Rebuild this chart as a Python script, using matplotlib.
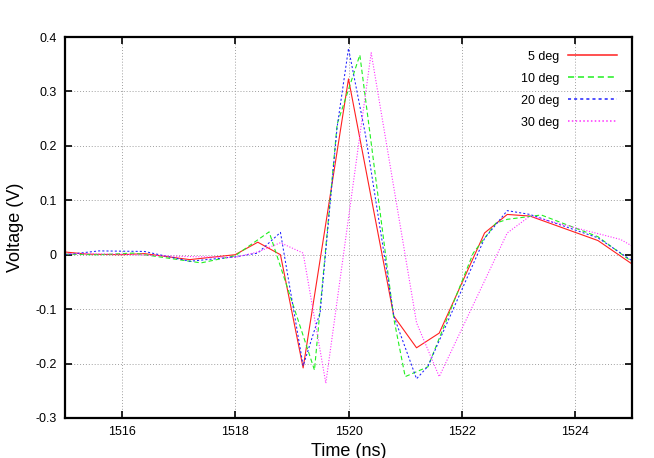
import matplotlib
matplotlib.use("Agg")
import matplotlib.pyplot as plt
from matplotlib.ticker import FuncFormatter

plt.rcParams['font.family'] = ['Liberation Sans', 'DejaVu Sans']
plt.rcParams['axes.unicode_minus'] = False

# ---- data ----
labels = ["5 deg", "10 deg", "20 deg", "30 deg"]

t_5 = [1515.0, 1515.4, 1516.0, 1516.4, 1517.2, 1518.0, 1518.4, 1518.8, 1519.2,
       1520.0, 1520.8, 1521.2, 1521.6, 1522.4, 1522.8, 1523.2, 1524.4, 1525.0]
v_5 = [0.005, 0.001, 0.0, 0.002, -0.009, 0.0, 0.023, 0.0, -0.208,
       0.323, -0.113, -0.171, -0.144, 0.040, 0.074, 0.071, 0.026, -0.017]

t_10 = [1515.0, 1515.6, 1516.2, 1517.4, 1518.0, 1518.6, 1519.4, 1519.8, 1520.2,
        1520.8, 1521.0, 1521.4, 1522.2, 1522.6, 1522.8, 1523.4, 1524.4, 1525.0]
v_10 = [0.001, 0.0, 0.003, -0.015, -0.002, 0.042, -0.212, 0.240, 0.367,
        -0.118, -0.224, -0.206, 0.003, 0.058, 0.065, 0.073, 0.033, -0.013]

t_20 = [1515.0, 1515.6, 1516.4, 1517.2, 1518.0, 1518.4, 1518.8, 1519.2, 1519.5,
        1519.8, 1520.0, 1520.3, 1520.8, 1521.2, 1521.4, 1522.4, 1522.8, 1523.2,
        1524.4, 1525.0]
v_20 = [0.0, 0.007, 0.006, -0.012, -0.004, 0.003, 0.041, -0.204, -0.106,
        0.235, 0.379, 0.22, -0.113, -0.228, -0.205, 0.030, 0.081, 0.074,
        0.031, -0.011]

t_30 = [1515.0, 1516.0, 1517.0, 1518.0, 1518.4, 1518.8, 1519.2, 1519.6, 1520.4,
        1521.2, 1521.6, 1522.8, 1523.2, 1524.8, 1525.0]
v_30 = [0.002, 0.001, -0.003, -0.005, 0.005, 0.022, 0.003, -0.236, 0.371,
        -0.125, -0.224, 0.040, 0.071, 0.028, 0.016]

x_ticks = [1516, 1518, 1520, 1522, 1524]
y_ticks = [-0.3, -0.2, -0.1, 0.0, 0.1, 0.2, 0.3, 0.4]

# ---- plot ----
fig = plt.figure(figsize=(6.54, 4.58), dpi=100)
ax = fig.add_axes([65/654, 1-418/458, (632-65)/654, (418-37)/458])

styles = [
    dict(color='#ff2020', linestyle='-', lw=0.8),
    dict(color='#20f020', linestyle=(0, (4, 2.5)), lw=0.8),
    dict(color='#2020ff', linestyle=(0, (2, 2)), lw=0.75),
    dict(color='#ff30ff', linestyle=(0, (1, 1.5)), lw=0.8),
]
series = [(t_5, v_5), (t_10, v_10), (t_20, v_20), (t_30, v_30)]
for (t, v), lab, st in zip(series, labels, styles):
    ax.plot(t, v, label=lab, **st)

ax.set_xlim(1515, 1525)
ax.set_ylim(-0.3, 0.4)
ax.set_xticks(x_ticks)
ax.set_yticks(y_ticks)
ax.yaxis.set_major_formatter(FuncFormatter(lambda v, p: '%g' % round(v, 3)))
ax.xaxis.set_major_formatter(FuncFormatter(lambda v, p: '%g' % v))

ax.grid(True, color='#a0a0a0', linestyle=(0, (1, 2)), lw=0.7)
ax.tick_params(direction='in', length=5, width=1.2, top=True, right=True,
               labelsize=9, pad=6, colors='black')
for s in ax.spines.values():
    s.set_linewidth(1.6)

ax.set_xlabel('Time (ns)', fontsize=13, labelpad=3)
ax.set_ylabel('Voltage (V)', fontsize=13, labelpad=8)

leg = ax.legend(loc='upper right', bbox_to_anchor=(0.982, 0.977),
                frameon=False, markerfirst=False, fontsize=9,
                handlelength=3.9, handletextpad=0.7, labelspacing=0.8,
                borderaxespad=0)
for h in leg.get_lines():
    h.set_linewidth(1.1)

fig.savefig('out.png', dpi=100)
